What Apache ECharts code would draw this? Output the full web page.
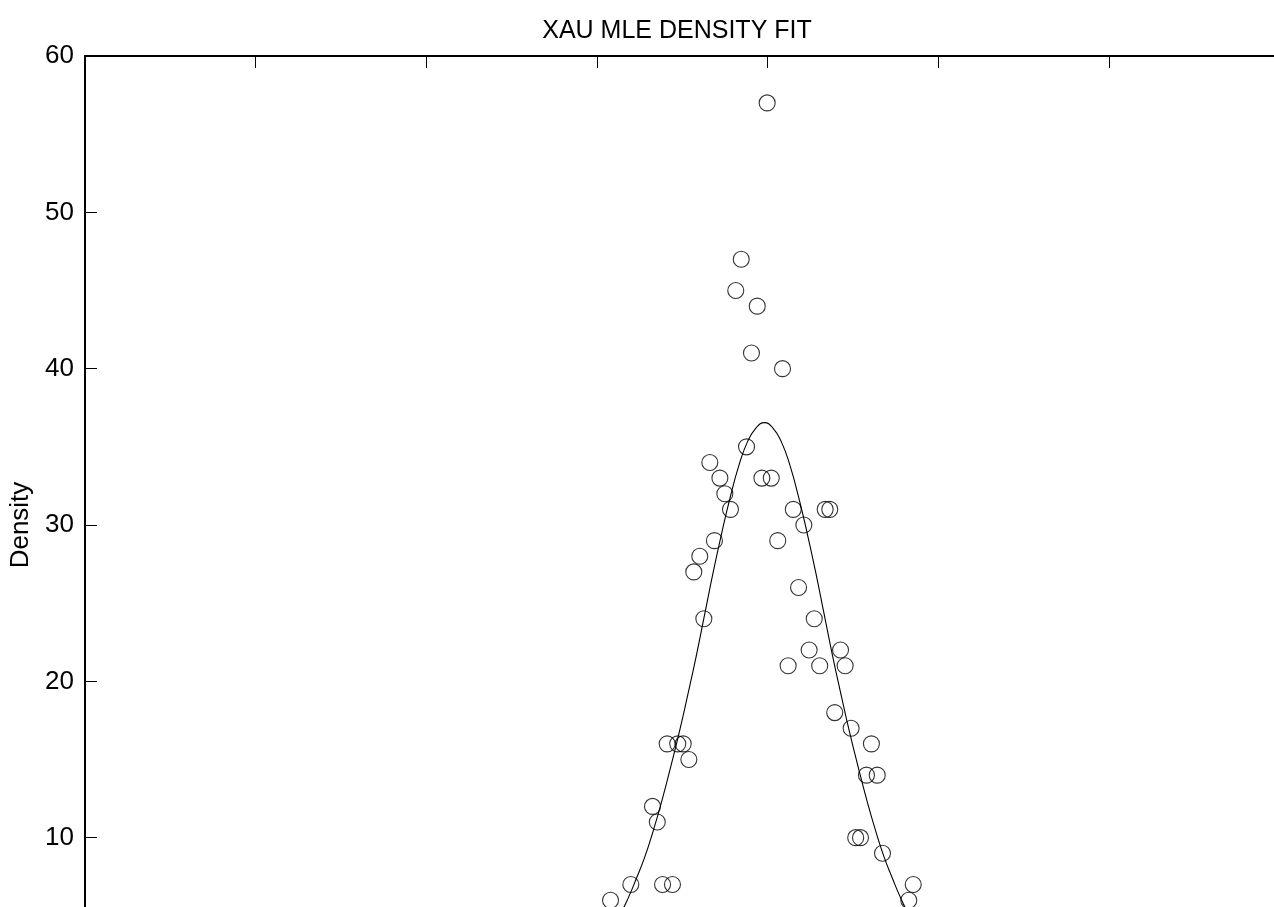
<!DOCTYPE html>
<html>
<head>
<meta charset="utf-8">
<title>XAU MLE DENSITY FIT</title>
<script src="https://cdn.jsdelivr.net/npm/echarts@6/dist/echarts.min.js"></script>
<style>
  html, body { margin: 0; padding: 0; background: #fff; }
  #chart { width: 1274px; height: 907px; }
</style>
</head>
<body>
<div id="chart"></div>
<script>
// Empirical density of XAU returns (%, bin centre) and the MLE-fitted curve.
const obsReturn = [
  -0.002, -0.154, -0.186, -0.060, -0.094, 0.088, -0.123, -0.338, -0.279, -0.033,
  0.022, -0.250, -0.217, 0.151, 0.338, 0.365, 0.213, -0.311, 0.060, -0.397,
  -0.432, 0.182, -0.373, 0.274, 0.244, 0.428, 0.121, 0.306, 0.455, 0.394,
  0.490, -0.588, -0.526, -0.494, 0.609, -0.461, 0.580, 0.643, -0.674, -0.646,
  0.517, 0.545, 0.674, -0.801, -0.615, -0.557, 0.854, -0.920, 0.828
];
const obsDensity = [
  57, 47, 45, 44, 41, 40, 35, 34, 33, 33,
  33, 32, 31, 31, 31, 31, 30, 29, 29, 28,
  27, 26, 24, 24, 22, 22, 21, 21, 21, 18,
  17, 16, 16, 16, 16, 15, 14, 14, 12, 11,
  10, 10, 9, 7, 7, 7, 7, 6, 6
];

// fitted density, sampled every 0.05 % of return
const fitReturn = [
  -0.918, -0.868, -0.818, -0.768, -0.718, -0.668, -0.618, -0.568, -0.518, -0.468,
  -0.418, -0.368, -0.318, -0.268, -0.218, -0.168, -0.118, -0.068, -0.018, 0.032,
  0.082, 0.132, 0.182, 0.232, 0.282, 0.332, 0.382, 0.432, 0.482, 0.532,
  0.582, 0.632, 0.682, 0.732, 0.782, 0.832, 0.882
];
const fitDensity = [
  4.1, 5.0, 6.1, 7.4, 8.8, 10.5, 12.4, 14.5, 16.7, 19.1,
  21.6, 24.3, 27.0, 29.5, 31.8, 33.8, 35.3, 36.2, 36.55, 36.2,
  35.3, 33.8, 31.8, 29.5, 27.0, 24.3, 21.6, 19.1, 16.7, 14.5,
  12.4, 10.5, 8.8, 7.4, 6.1, 5.0, 4.1
];

const yTicks = { min: 0, max: 60, step: 10 };
const xTicks = { min: -4, max: 4, step: 1 };

const pairs = (xs, ys) => xs.map((x, i) => [x, ys[i]]);

const FONT = '"Liberation Sans", Arial, sans-serif';
const chart = echarts.init(document.getElementById('chart'), null, { renderer: 'canvas' });

const tickCommon = { show: true, inside: true, length: 12, lineStyle: { color: '#000', width: 1 } };
const lineCommon = { show: true, onZero: false, lineStyle: { color: '#000', width: 2 } };

chart.setOption({
  animation: false,
  backgroundColor: '#fff',
  title: {
    text: 'XAU MLE DENSITY FIT',
    left: 672,
    top: 14,
    textAlign: 'center',
    textStyle: { fontFamily: FONT, fontSize: 25, fontWeight: 'normal', color: '#000' }
  },
  // the plot frame runs past the right and bottom edges of the page
  grid: { left: 85, top: 56, width: 1365, height: 938, outerBoundsMode: 'none' },
  xAxis: [
    {
      type: 'value', position: 'bottom',
      min: xTicks.min, max: xTicks.max, interval: xTicks.step,
      axisLine: lineCommon, axisTick: tickCommon,
      axisLabel: { show: true, fontFamily: FONT, fontSize: 26, color: '#000' },
      splitLine: { show: false }
    },
    {
      type: 'value', position: 'top',
      min: xTicks.min, max: xTicks.max, interval: xTicks.step,
      axisLine: lineCommon, axisTick: tickCommon,
      axisLabel: { show: false },
      splitLine: { show: false }
    }
  ],
  yAxis: [
    {
      type: 'value', position: 'left',
      min: yTicks.min, max: yTicks.max, interval: yTicks.step,
      name: 'Density', nameLocation: 'middle', nameGap: 44,
      nameTextStyle: { fontFamily: FONT, fontSize: 26, color: '#000' },
      axisLine: lineCommon, axisTick: tickCommon,
      axisLabel: { fontFamily: FONT, fontSize: 26, color: '#000', margin: 11 },
      splitLine: { show: false }
    }
  ],
  series: [
    {
      name: 'MLE fit',
      type: 'line',
      data: pairs(fitReturn, fitDensity),
      smooth: true,
      showSymbol: false,
      lineStyle: { color: '#000', width: 1.1 },
      z: 2
    },
    {
      name: 'Empirical',
      type: 'scatter',
      data: pairs(obsReturn, obsDensity),
      symbol: 'circle',
      symbolSize: 16,
      itemStyle: { color: 'rgba(0,0,0,0)', borderColor: '#000', borderWidth: 1.1 },
      z: 3
    }
  ]
});
</script>
</body>
</html>
